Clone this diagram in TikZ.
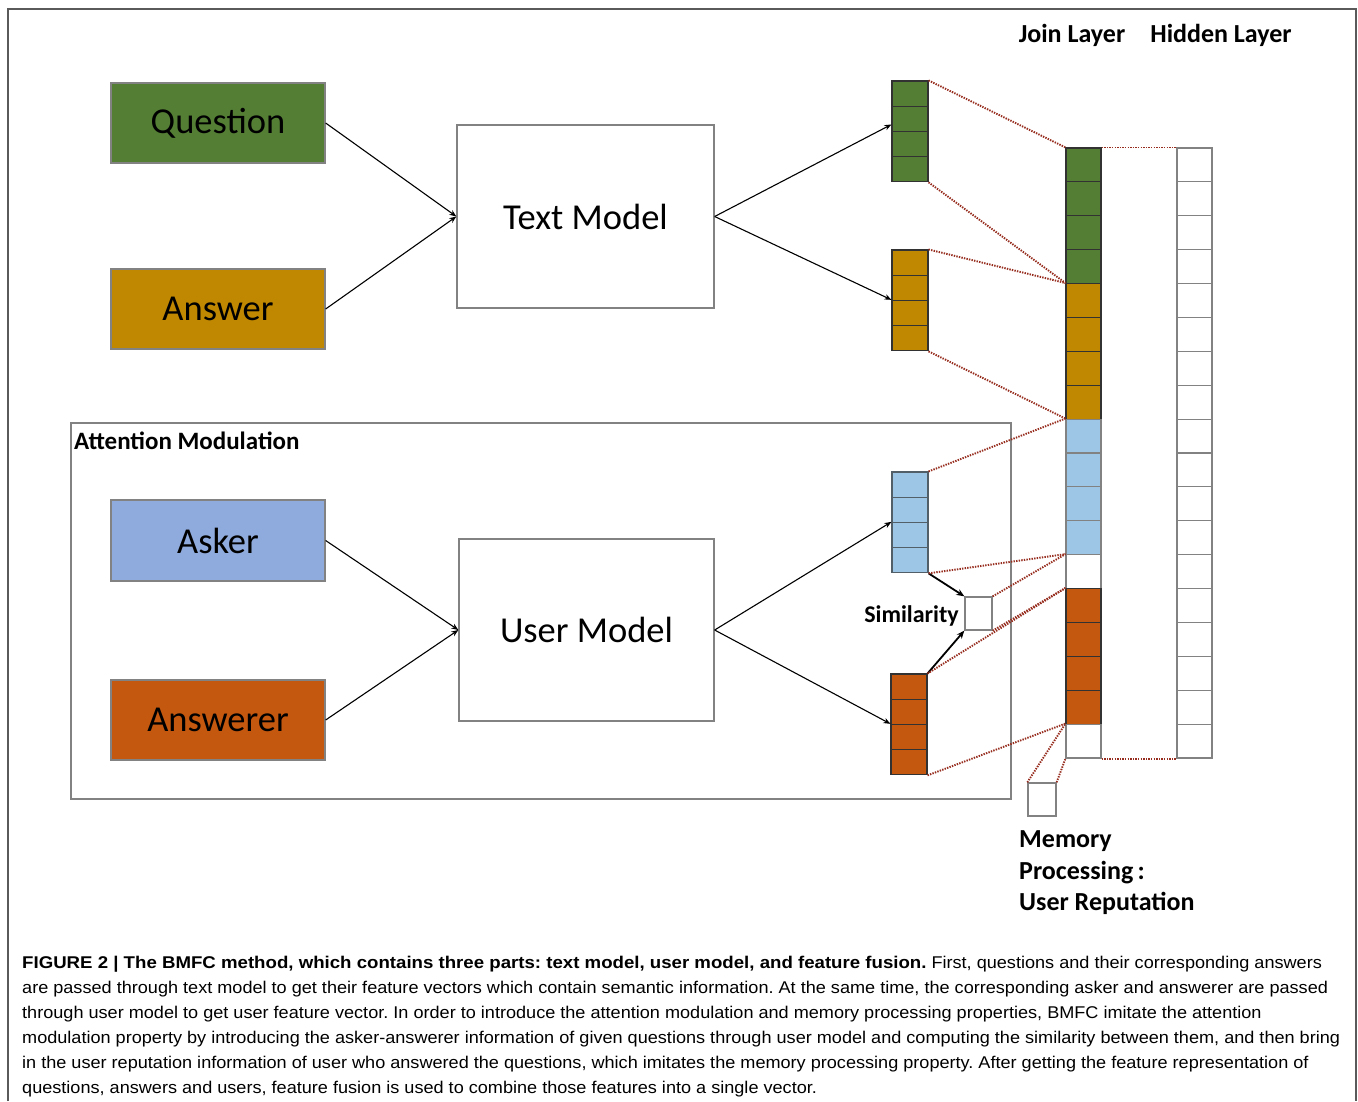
\documentclass[tikz,border=0pt]{standalone}
\usepackage{fontspec}
\usepackage{graphicx}
\setmainfont{Carlito}
\newfontfamily\capfont{Liberation Sans}
\usetikzlibrary{arrows.meta,calc}
\definecolor{qgreen}{RGB}{84,126,52}
\definecolor{qgold}{RGB}{192,135,0}
\definecolor{qblue}{RGB}{143,170,220}
\definecolor{vblue}{RGB}{157,197,230}
\definecolor{qred}{RGB}{197,88,15}
\definecolor{boxgray}{RGB}{130,130,130}
\definecolor{celldark}{RGB}{50,50,50}
\definecolor{dotred}{RGB}{150,45,30}
\definecolor{framegray}{RGB}{90,90,90}
\newlength\capw
\newcommand\capsz{\capfont\fontsize{17}{20}\selectfont\frenchspacing}
\begin{document}
\frenchspacing
\settowidth{\capw}{\capsz modulation property by introducing the asker-answerer information of given questions through user model and computing the similarity between them, and then bring}%
\pgfmathsetmacro\capf{1318/\capw}%
\begin{tikzpicture}[x=1pt,y=-1pt,
  bigbox/.style={draw=boxgray, line width=1.3pt, rectangle, inner sep=0pt},
  cbox/.style={bigbox, minimum width=214pt, minimum height=80pt, font=\fontsize{36.5}{40}\selectfont},
  model/.style={bigbox, fill=white, font=\fontsize{36.5}{40}\selectfont},
  cell/.style={rectangle, inner sep=0pt, minimum width=36pt, minimum height=25.2pt, line width=1.1pt, draw=celldark},
  jcell/.style={rectangle, inner sep=0pt, minimum width=35pt, minimum height=33.889pt, line width=1.1pt},
  arr/.style={draw=black, line width=1.1pt, -{Stealth[length=7pt,width=5.5pt]}},
  thickarr/.style={draw=black, line width=1.8pt, -{Stealth[length=8pt,width=6.5pt]}},
  dotl/.style={draw=dotred, line width=1.9pt, dash pattern=on 1.4pt off 1.2pt},
  hdr/.style={font=\bfseries\fontsize{26}{28}\selectfont, inner sep=0pt},
  capline/.style={anchor=base west, inner sep=0pt},
]
\useasboundingbox (0,0) rectangle (1358,1101);
\fill[white] (0,0) rectangle (1358,1101);
% outer frame
\draw[framegray, line width=1.3pt] (8,1101) -- (8,9) -- (1356,9) -- (1356,1101);

% attention modulation frame
\node[bigbox, minimum width=940pt, minimum height=376pt] (attn) at (541,611) {};
\node[hdr, anchor=west, font=\bfseries\fontsize{25}{28}\selectfont] (attnlbl) at (74,441) {Attention Modulation};

% input boxes
\node[cbox, fill=qgreen] (question) at (218,123) {Question};
\node[cbox, fill=qgold] (answer) at (218,309) {Answer};
\node[cbox, fill=qblue, minimum height=81pt] (asker) at (218,540.5) {Asker};
\node[cbox, fill=qred] (answerer) at (218,720) {Answerer};

% models
\node[model, minimum width=257pt, minimum height=183pt] (tm) at (585.5,216.5) {Text Model};
\node[model, minimum width=255pt, minimum height=182pt] (um) at (586.5,630) {User Model};

% small vectors
\foreach \k in {1,...,4} {
  \node[cell, fill=qgreen] (g\k) at (910,{81+12.6+25.2*(\k-1)}) {};
  \node[cell, fill=qgold] (o\k) at (910,{250+12.6+25.2*(\k-1)}) {};
  \node[cell, fill=vblue, draw=celldark!70!vblue] (b\k) at (910,{472+12.6+25.2*(\k-1)}) {};
  \node[cell, fill=qred] (r\k) at (909,{674+12.6+25.2*(\k-1)}) {};
}

% join layer and hidden layer
\foreach \i/\c/\d in {1/qgreen/celldark,2/qgreen/celldark,3/qgreen/celldark,4/qgreen/celldark,
  5/qgold/celldark,6/qgold/celldark,7/qgold/celldark,8/qgold/celldark,
  9/vblue/boxgray,10/vblue/boxgray,11/vblue/boxgray,12/vblue/boxgray,
  13/white/boxgray,14/qred/celldark,15/qred/celldark,16/qred/celldark,17/qred/celldark,18/white/boxgray} {
  \node[jcell, fill=\c, draw=\d] (j\i) at (1083.5,{148+(\i-0.5)*33.889}) {};
  \node[jcell, fill=white, draw=boxgray] (h\i) at (1194.5,{148+(\i-0.5)*33.889}) {};
}

% similarity and memory boxes
\node[bigbox, fill=white, minimum width=27pt, minimum height=33pt] (sim) at (978.5,613.5) {};
\node[hdr, anchor=east, font=\bfseries\fontsize{24}{28}\selectfont] (simlbl) at (959,616) {Similarity};
\node[bigbox, fill=white, minimum width=28pt, minimum height=33pt] (mem) at (1042,799.5) {};

% headers
\node[hdr] (joinlbl) at (1072,35) {Join Layer};
\node[hdr] (hidlbl) at (1221,35) {Hidden Layer};
\node[hdr, anchor=base west] (mem1) at (1019,847) {Memory};
\node[hdr, anchor=base west] (mem2) at (1019,879) {Processing\,:};
\node[hdr, anchor=base west] (mem3) at (1019,910) {User Reputation};

% solid arrows
\draw[arr] (question.east) -- (tm.west);
\draw[arr] (answer.east) -- (tm.west);
\draw[arr] (tm.east) -- ([yshift=7.5pt]g2.south west);
\draw[arr] (tm.east) -- (o3.north west);
\draw[arr] (asker.east) -- (um.west);
\draw[arr] (answerer.east) -- (um.west);
\draw[arr] (um.east) -- (b3.north west);
\draw[arr] (um.east) -- (r3.north west);
\draw[thickarr] (b4.south east) -- (sim.north west);
\draw[thickarr] (r1.north east) -- (sim.south west);

% dotted connectors
\draw[dotl] (g1.north east) -- (j1.north west);
\draw[dotl] (g4.south east) -- (j5.north west);
\draw[dotl] (o1.north east) -- (j5.north west);
\draw[dotl] (o4.south east) -- (j9.north west);
\draw[dotl] (b1.north east) -- (j9.north west);
\draw[dotl] (b4.south east) -- (j13.north west);
\draw[dotl] (sim.north east) -- (j13.north west);
\draw[dotl] (sim.south east) -- (j14.north west);
\draw[dotl] (r1.north east) -- (j14.north west);
\draw[dotl] (r4.south east) -- (j18.north west);
\draw[dotl] (mem.north west) -- (j18.north west);
\draw[dotl] (mem.north east) -- (j18.south west);
\draw[dotl] (j1.north east) -- (h1.north west);
\draw[dotl] (j18.south east) -- (h18.south west);

% caption
\node[capline] (cap1) at (22,968) {\scalebox{\capf}[1]{\capsz\scalebox{1.03}[1]{\textbf{FIGURE 2 | The BMFC method, which contains three parts: text model, user model, and feature fusion.}} First, questions and their corresponding answers}};
\node[capline] (cap2) at (22,993) {\scalebox{\capf}[1]{\capsz are passed through text model to get their feature vectors which contain semantic information. At the same time, the corresponding asker and answerer are passed}};
\node[capline] (cap3) at (22,1018) {\scalebox{\capf}[1]{\capsz through user model to get user feature vector. In order to introduce the attention modulation and memory processing properties, BMFC imitate the attention}};
\node[capline] (cap4) at (22,1043) {\scalebox{\capf}[1]{\capsz modulation property by introducing the asker-answerer information of given questions through user model and computing the similarity between them, and then bring}};
\node[capline] (cap5) at (22,1068) {\scalebox{\capf}[1]{\capsz in the user reputation information of user who answered the questions, which imitates the memory processing property. After getting the feature representation of}};
\node[capline] (cap6) at (22,1093) {\scalebox{\capf}[1]{\capsz questions, answers and users, feature fusion is used to combine those features into a single vector.}};
\end{tikzpicture}
\end{document}
